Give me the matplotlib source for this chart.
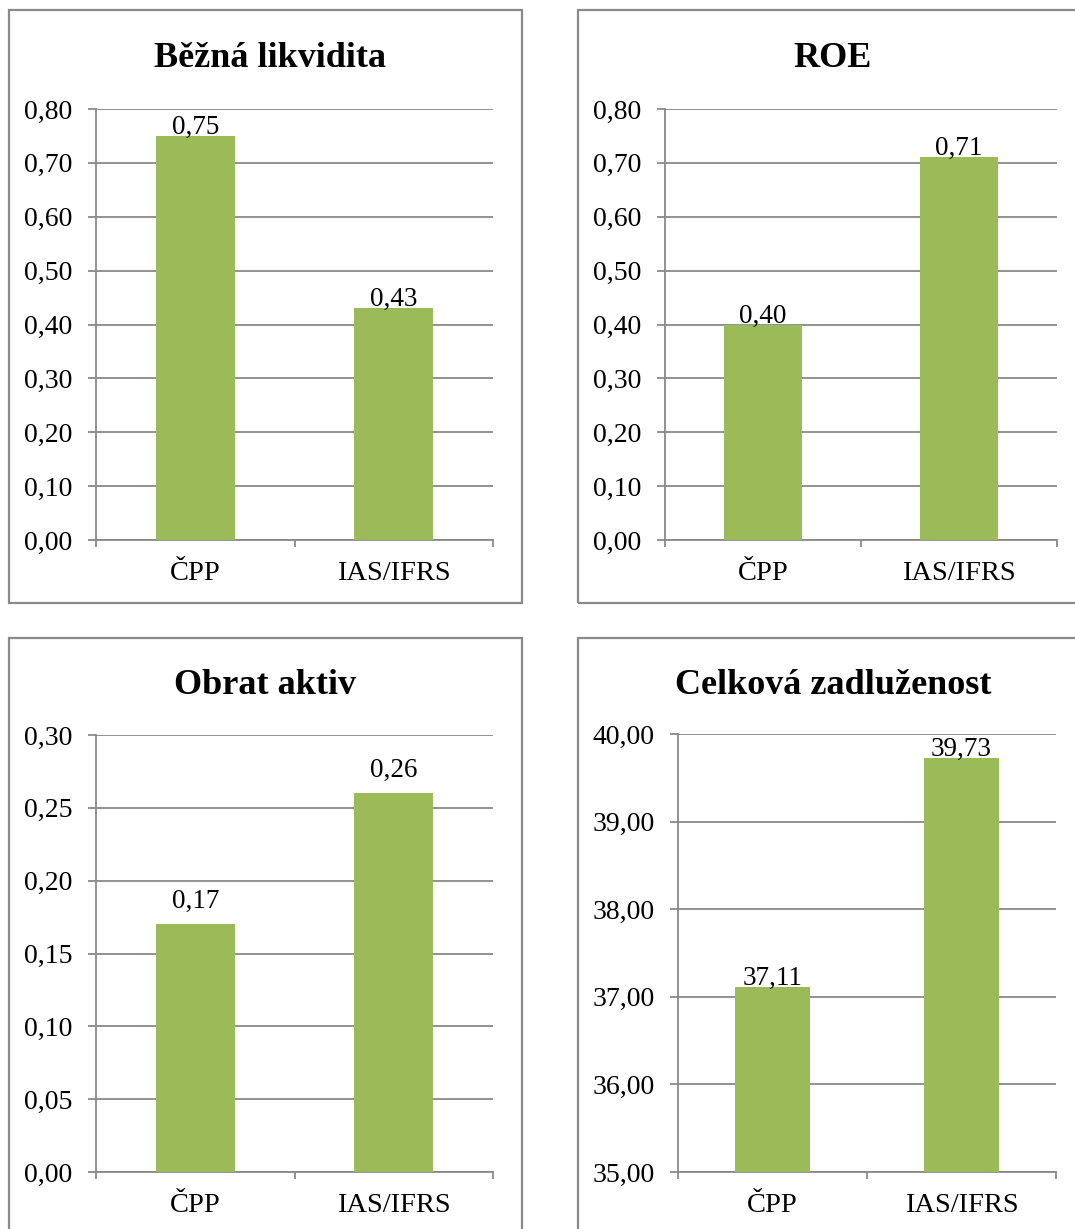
import matplotlib
matplotlib.use("Agg")
import matplotlib.pyplot as plt
from matplotlib.patches import Rectangle
from matplotlib.ticker import FixedLocator, FuncFormatter

plt.rcParams['font.family'] = ['Liberation Serif', 'DejaVu Serif']

categories = ["ČPP", "IAS/IFRS"]

titles = ["Běžná likvidita", "ROE", "Obrat aktiv", "Celková zadluženost"]
bezna_likvidita = [0.75, 0.43]
roe = [0.40, 0.71]
obrat_aktiv = [0.17, 0.26]
celkova_zadluzenost = [37.11, 39.73]
values = [bezna_likvidita, roe, obrat_aktiv, celkova_zadluzenost]

y_ranges = [(0.0, 0.80, 0.10), (0.0, 0.80, 0.10), (0.0, 0.30, 0.05), (35.0, 40.0, 1.0)]

W, H = 1075, 1229
DPI = 100
fig = plt.figure(figsize=(W / DPI, H / DPI), dpi=DPI)

GRAY = "#898989"
GREEN = "#9BBB59"

# pixel layout (left, right, top, bottom) of plot areas
axes_px = [(96, 493, 109, 540), (665, 1057, 109, 540),
           (96, 493, 735, 1172), (678, 1056, 734, 1172)]
frames_px = [(9, 522, 10, 603), (578, 1090, 10, 603),
             (9, 522, 638, 1240), (578, 1090, 638, 1240)]
title_px = [(270, 67), (833, 67), (265, 694), (833, 694)]
label_off = [1.5, 1.5, 11.5, 1.5]


def fx(x):
    return x / W


def fy(y):
    return 1 - y / H


def fmt(v, pos=None):
    return f"{v:.2f}".replace(".", ",")


for i in range(4):
    fl, fr, ft, fb = frames_px[i]
    fig.add_artist(Rectangle((fx(fl), fy(fb)), fx(fr - fl), (fb - ft) / H,
                             transform=fig.transFigure, fill=False,
                             edgecolor=GRAY, linewidth=1.6, clip_on=False))
    l, r, t, b = axes_px[i]
    ax = fig.add_axes([fx(l), fy(b), fx(r - l), (b - t) / H])
    lo, hi, step = y_ranges[i]
    n = int(round((hi - lo) / step))
    ticks = [lo + k * step for k in range(n + 1)]
    x = list(range(len(categories)))
    bars = ax.bar(x, [v - lo for v in values[i]], bottom=lo, width=0.4,
                  color=GREEN, zorder=3)
    ax.set_ylim(lo, hi)
    ax.set_xlim(-0.5, 1.5)
    ax.yaxis.set_major_locator(FixedLocator(ticks))
    ax.yaxis.set_major_formatter(FuncFormatter(fmt))
    ax.grid(axis="y", color=GRAY, linewidth=1.3, zorder=0)
    ax.set_axisbelow(True)
    for s in ["top", "right"]:
        ax.spines[s].set_visible(False)
    for s in ["left", "bottom"]:
        ax.spines[s].set_color(GRAY)
        ax.spines[s].set_linewidth(1.3)
    ax.tick_params(axis="y", length=6, width=1.3, color=GRAY, pad=11,
                   labelsize=20)
    ax.set_xticks(x)
    ax.set_xticklabels(categories)
    ax.tick_params(axis="x", which="major", length=0, pad=15, labelsize=20.5)
    ax.set_xticks([-0.5, 0.5, 1.5], minor=True)
    ax.tick_params(axis="x", which="minor", length=5, width=1.3, color=GRAY)
    for xi, v in zip(x, values[i]):
        ax.annotate(fmt(v), (xi, v), xytext=(0, label_off[i]),
                    textcoords="offset points", ha="center", va="baseline",
                    fontsize=19.5, zorder=4)
    tx, ty = title_px[i]
    fig.text(fx(tx), fy(ty), titles[i], ha="center", va="baseline",
             fontsize=26, fontweight="bold")

fig.savefig("out.png", dpi=DPI)
